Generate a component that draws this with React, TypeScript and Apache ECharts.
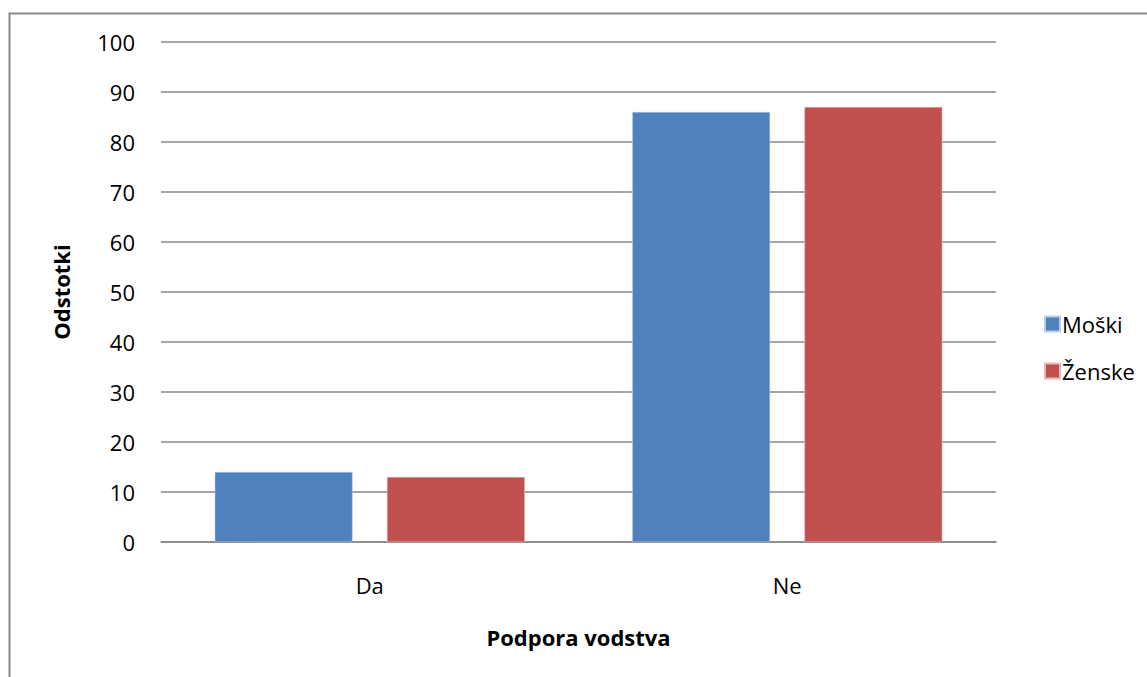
import React, { useEffect, useRef } from "react";
import * as echarts from "echarts";

const categories = ["Da", "Ne"];
const moski = [14, 86];
const zenske = [13, 87];
const seriesNames = ["Moški", "Ženske"];
const yTicks = { min: 0, max: 100, interval: 10 };

const FONT = "'Open Sans', 'Noto Sans', sans-serif";

export default function App() {
  const ref = useRef<HTMLDivElement>(null);
  useEffect(() => {
    if (!ref.current) return;
    const chart = echarts.init(ref.current, null, { renderer: "svg" });
    chart.setOption({
      animation: false,
      backgroundColor: "#ffffff",
      textStyle: { fontFamily: FONT },
      graphic: [
        {
          type: "rect",
          shape: { x: 9.5, y: 13.5, width: 1140, height: 700 },
          style: { fill: "none", stroke: "#888888", lineWidth: 2 },
          silent: true,
        },
      ],
      grid: { left: 161, right: 151, top: 42, bottom: 135, containLabel: false },
      legend: {
        orient: "vertical",
        left: 1039,
        top: 308,
        itemWidth: 15,
        itemHeight: 15,
        itemGap: 25,
        icon: "rect",
        textStyle: {
          fontSize: 22,
          lineHeight: 22,
          color: "#000",
          fontFamily: FONT,
          padding: [0, 0, 0, -3],
        },
        data: seriesNames,
      },
      xAxis: {
        type: "category",
        data: categories,
        name: "Podpora vodstva",
        nameLocation: "middle",
        nameGap: 84,
        nameTextStyle: { fontSize: 22, fontWeight: "bold", color: "#000", fontFamily: FONT },
        axisLine: { lineStyle: { color: "#888888", width: 1.5 } },
        axisTick: { show: false },
        axisLabel: { fontSize: 22, color: "#000", margin: 32, fontFamily: FONT },
      },
      yAxis: {
        type: "value",
        min: yTicks.min,
        max: yTicks.max,
        interval: yTicks.interval,
        name: "Odstotki",
        nameLocation: "middle",
        nameGap: 89,
        nameRotate: 90,
        nameTextStyle: { fontSize: 22, fontWeight: "bold", color: "#000", fontFamily: FONT },
        axisLine: { show: false },
        axisTick: { show: false },
        axisLabel: { fontSize: 22, color: "#000", margin: 26, fontFamily: FONT },
        splitLine: { lineStyle: { color: "#888888", width: 1.5 } },
      },
      series: [
        {
          name: seriesNames[0],
          type: "bar",
          data: moski,
          barWidth: "33%",
          barGap: "25%",
          itemStyle: { color: "#4F81BD", borderColor: "#B9CDE5", borderWidth: 0.5 },
        },
        {
          name: seriesNames[1],
          type: "bar",
          data: zenske,
          barWidth: "33%",
          barGap: "25%",
          itemStyle: { color: "#C0504D", borderColor: "#E6B9B8", borderWidth: 0.5 },
        },
      ],
    });
    return () => chart.dispose();
  }, []);
  return (
    <div
      ref={ref}
      style={{ position: "fixed", left: 0, top: 0, width: 1147, height: 677 }}
    />
  );
}
